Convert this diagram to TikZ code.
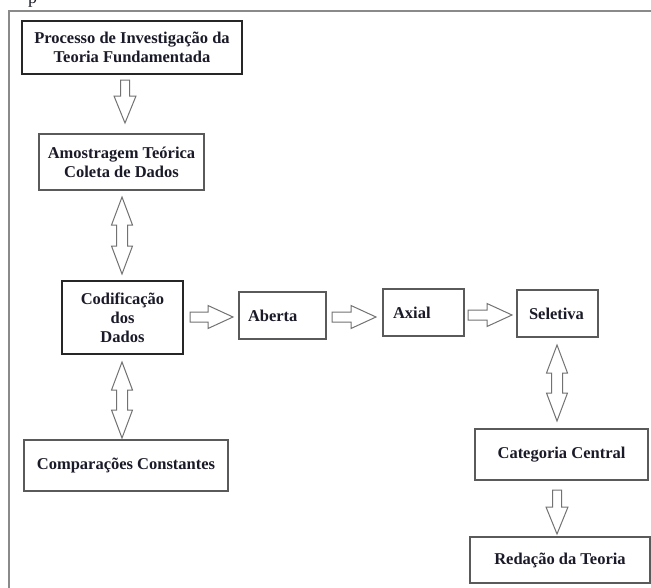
\documentclass[tikz,border=0pt]{standalone}
\usepackage{fontspec}
\setmainfont{Liberation Serif}
\usetikzlibrary{calc}
\definecolor{framegray}{HTML}{8A8A8A}
\definecolor{boxgray}{HTML}{5A5A5A}
\definecolor{arrowgray}{HTML}{727272}
\definecolor{txt}{HTML}{1A1A28}

\newcommand\fatdown[2]{%
  \draw[fatarrow] let \p1=(#1), \p2=(#2) in
    (\x1-4.5pt,\y1) -- (\x1+4.5pt,\y1) -- (\x1+4.5pt,\y2+27pt) -- (\x1+11pt,\y2+27pt)
    -- (\x1,\y2) -- (\x1-11pt,\y2+27pt) -- (\x1-4.5pt,\y2+27pt) -- cycle;}
\newcommand\fatright[2]{%
  \draw[fatarrow] let \p1=(#1), \p2=(#2) in
    (\x1,\y1+5pt) -- (\x2-25pt,\y1+5pt) -- (\x2-25pt,\y1+11.5pt) -- (\x2,\y1)
    -- (\x2-25pt,\y1-11.5pt) -- (\x2-25pt,\y1-5pt) -- (\x1,\y1-5pt) -- cycle;}
\newcommand\fatboth[2]{%
  \draw[fatarrow] let \p1=(#1), \p2=(#2) in
    (\x1,\y1) -- (\x1+10.5pt,\y1-28pt) -- (\x1+5.5pt,\y1-28pt) -- (\x1+5.5pt,\y2+28pt)
    -- (\x1+10.5pt,\y2+28pt) -- (\x1,\y2) -- (\x1-10.5pt,\y2+28pt) -- (\x1-5.5pt,\y2+28pt)
    -- (\x1-5.5pt,\y1-28pt) -- (\x1-10.5pt,\y1-28pt) -- cycle;}

\begin{document}
\begin{tikzpicture}[x=1pt,y=-1pt,
  box/.style={draw, rectangle, line width=1.1pt, fill=white, inner sep=0pt, align=center,
    font=\fontsize{16.5}{19}\selectfont\bfseries, text=txt},
  boxk/.style={box, draw=black!85},
  boxg/.style={box, draw=boxgray},
  fatarrow/.style={draw=arrowgray, fill=white, line width=1pt, line join=miter},
  framel/.style={draw=framegray, line width=2pt},
]
\useasboundingbox (0,0) rectangle (651,587);
\clip (0,0) rectangle (651,587);

% cut-off letter at the top (as in the reference)
\node[anchor=base west, inner sep=0pt, font=\fontsize{18}{20}\selectfont, text=txt] (pp) at (28,3.5) {p};

% outer frame
\draw[framel] (9,590) -- (9,11) -- (655,11);

% boxes
\node[boxk, minimum width=220, minimum height=53] (p1) at (132,47.5)
  {Processo de Investigação da\\Teoria Fundamentada};
\node[boxg, minimum width=165, minimum height=56] (p2) at (121.5,162)
  {Amostragem Teórica\\Coleta de Dados};
\node[boxk, minimum width=121, minimum height=73] (cod) at (122.5,317.5)
  {Codificação\\dos\\Dados};
\node[boxg, minimum width=87, minimum height=47, inner xsep=9pt, text width=69pt, align=left] (ab) at (282.5,315.5) {Aberta};
\node[boxg, minimum width=81, minimum height=47, inner xsep=10pt, text width=61pt, align=left] (ax) at (423.5,312.5) {Axial};
\node[boxg, minimum width=81, minimum height=47, inner xsep=12pt, text width=57pt, align=left] (se) at (557.5,313.5) {Seletiva};
\node[boxg, minimum width=204, minimum height=51] (cp) at (126,465.5) {Comparações Constantes};
\node[boxg, minimum width=173, minimum height=51] (cc) at (561.5,454.5) {Categoria Central};
\node[boxg, minimum width=180, minimum height=46] (rt) at (560,560) {Redação da Teoria};

% arrow end points
\coordinate (a1s) at (125,80);  \coordinate (a1t) at (125,123);
\coordinate (d1s) at (122,197); \coordinate (d1t) at (122,274);
\coordinate (d2s) at (122,362); \coordinate (d2t) at (122,438);
\coordinate (h1s) at (190,317); \coordinate (h1t) at (233,317);
\coordinate (h2s) at (332,317); \coordinate (h2t) at (376,317);
\coordinate (h3s) at (468,315); \coordinate (h3t) at (512,315);
\coordinate (d3s) at (557,345); \coordinate (d3t) at (557,421);
\coordinate (a5s) at (557,490); \coordinate (a5t) at (557,534);

% connectors
\fatdown{a1s}{a1t}
\fatboth{d1s}{d1t}
\fatboth{d2s}{d2t}
\fatright{h1s}{h1t}
\fatright{h2s}{h2t}
\fatright{h3s}{h3t}
\fatboth{d3s}{d3t}
\fatdown{a5s}{a5t}
\end{tikzpicture}
\end{document}
